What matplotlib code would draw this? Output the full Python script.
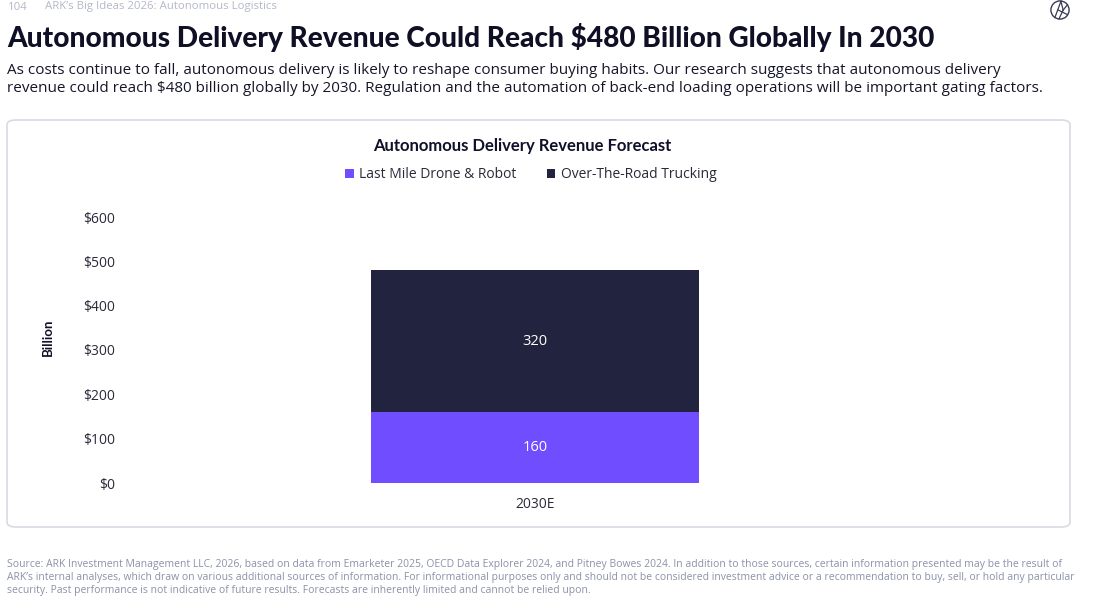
import matplotlib
matplotlib.use("Agg")
import matplotlib.pyplot as plt
from matplotlib.patches import FancyBboxPatch, Circle
from matplotlib.lines import Line2D

# ---- data ----
categories = ["2030E"]
last_mile = [160]
trucking = [320]
series_names = ["Last Mile Drone & Robot", "Over-The-Road Trucking"]
y_ticks = [0, 100, 200, 300, 400, 500, 600]
y_tick_labels = ["$0", "$100", "$200", "$300", "$400", "$500", "$600"]

PURPLE = "#704DFF"
NAVY = "#22233F"
GRAY = "#8c91a8"

W, H = 1100, 610
fig = plt.figure(figsize=(W / 100, H / 100), dpi=100)
fig.patch.set_facecolor("white")

BODY = ["Open Sans", "DejaVu Sans"]
HEAD = ["Lato", "DejaVu Sans"]


def fx(x):
    return x / W


def fy(y):
    return 1 - y / H


# card (drawn behind everything)
card = FancyBboxPatch((fx(7), fy(527)), fx(1063), (527 - 120) / H,
                      boxstyle="round,pad=0,rounding_size=0.008",
                      transform=fig.transFigure, facecolor="white", edgecolor="#d9d9e3", lw=1.2,
                      zorder=-10)
fig.patches.append(card)

# header
fig.text(fx(8), fy(7), "104", fontsize=8.2, color="#b4b8c8", family=BODY, va="center", ha="left")
fig.text(fx(45), fy(7), "ARK\u2019s Big Ideas 2026: Autonomous Logistics", fontsize=8.2,
         color="#b4b8c8", family=BODY, va="center", ha="left")

# logo
logo_ax = fig.add_axes([fx(1050), fy(20), fx(20), 20 / H])
logo_ax.set_xlim(-1.1, 1.1)
logo_ax.set_ylim(-1.1, 1.1)
logo_ax.set_aspect("equal")
logo_ax.axis("off")
logo_ax.add_patch(Circle((0, 0), 1, fill=False, edgecolor="#3a3a55", lw=1))
for (x0, y0, x1, y1) in [(-0.55, -0.8, 0.1, 0.95), (0.1, 0.95, 0.35, 0.0),
                         (-0.2, 0.0, 0.8, -0.5), (0.35, 0.0, -0.1, -0.95), (0.35, 0.0, 0.8, 0.55)]:
    logo_ax.add_line(Line2D([x0, x1], [y0, y1], color="#3a3a55", lw=0.9))

# title
fig.text(fx(7), fy(38), "Autonomous Delivery Revenue Could Reach $480 Billion Globally In 2030",
         fontsize=20.2, fontweight="black", color="#0f0f25", family=HEAD, va="center", ha="left")
fig.text(fx(7), fy(71),
         "As costs continue to fall, autonomous delivery is likely to reshape consumer buying habits. Our research suggests that autonomous delivery",
         fontsize=11.0, color="#16162a", family=BODY, va="center", ha="left")
fig.text(fx(7), fy(89),
         "revenue could reach $480 billion globally by 2030. Regulation and the automation of back-end loading operations will be important gating factors.",
         fontsize=11.0, color="#16162a", family=BODY, va="center", ha="left")

# chart title
fig.text(fx(522), fy(146), "Autonomous Delivery Revenue Forecast", fontsize=12, fontweight="bold",
         color="#10102a", family=HEAD, va="center", ha="center")

# axes
ax = fig.add_axes([fx(125), fy(483), fx(820), (483 - 217) / H])
x = list(range(len(categories)))
b1 = ax.bar(x, last_mile, width=0.4, color=PURPLE, label=series_names[0], zorder=2)
b2 = ax.bar(x, trucking, width=0.4, bottom=last_mile, color=NAVY, label=series_names[1], zorder=2)
ax.bar_label(b1, labels=[str(v) for v in last_mile], label_type="center", color="white",
             fontsize=10.5, family=BODY)
ax.bar_label(b2, labels=[str(v) for v in trucking], label_type="center", color="white",
             fontsize=10.5, family=BODY)
ax.set_xlim(-0.5, 0.5)
ax.set_ylim(0, 600)
ax.set_yticks(y_ticks)
ax.set_yticklabels(y_tick_labels, family=BODY, fontsize=10, color="#2a2a3a")
ax.set_xticks(x)
ax.set_xticklabels(categories, family=BODY, fontsize=10, color="#2a2a3a")
ax.tick_params(axis="y", length=0, pad=7)
ax.tick_params(axis="x", length=0, pad=10)
for s in ax.spines.values():
    s.set_visible(False)
ax.patch.set_alpha(0)

fig.text(fx(48), fy(337), "Billion", rotation=90, fontsize=9.5, fontweight="bold",
         color="#10102a", family=HEAD, va="center", ha="center")

leg = fig.legend(handles=[b1, b2], labels=series_names, loc="center", bbox_to_anchor=(fx(531), fy(175)),
                 ncol=2, frameon=False, handlelength=0.6, handleheight=0.6, handletextpad=0.4,
                 columnspacing=2.2, prop={"family": BODY, "size": 10})
for t in leg.get_texts():
    t.set_color("#2a2a3a")

# footnote
foot = [
    "Source: ARK Investment Management LLC, 2026, based on data from Emarketer 2025, OECD Data Explorer 2024, and Pitney Bowes 2024. In addition to those sources, certain information presented may be the result of",
    "ARK\u2019s internal analyses, which draw on various additional sources of information. For informational purposes only and should not be considered investment advice or a recommendation to buy, sell, or hold any particular",
    "security. Past performance is not indicative of future results. Forecasts are inherently limited and cannot be relied upon.",
]
for i, line in enumerate(foot):
    fig.text(fx(7), fy(564 + 13.5 * i), line, fontsize=7.45, color=GRAY, family=BODY, va="center", ha="left")

fig.savefig("out.png", dpi=100, facecolor="white")
